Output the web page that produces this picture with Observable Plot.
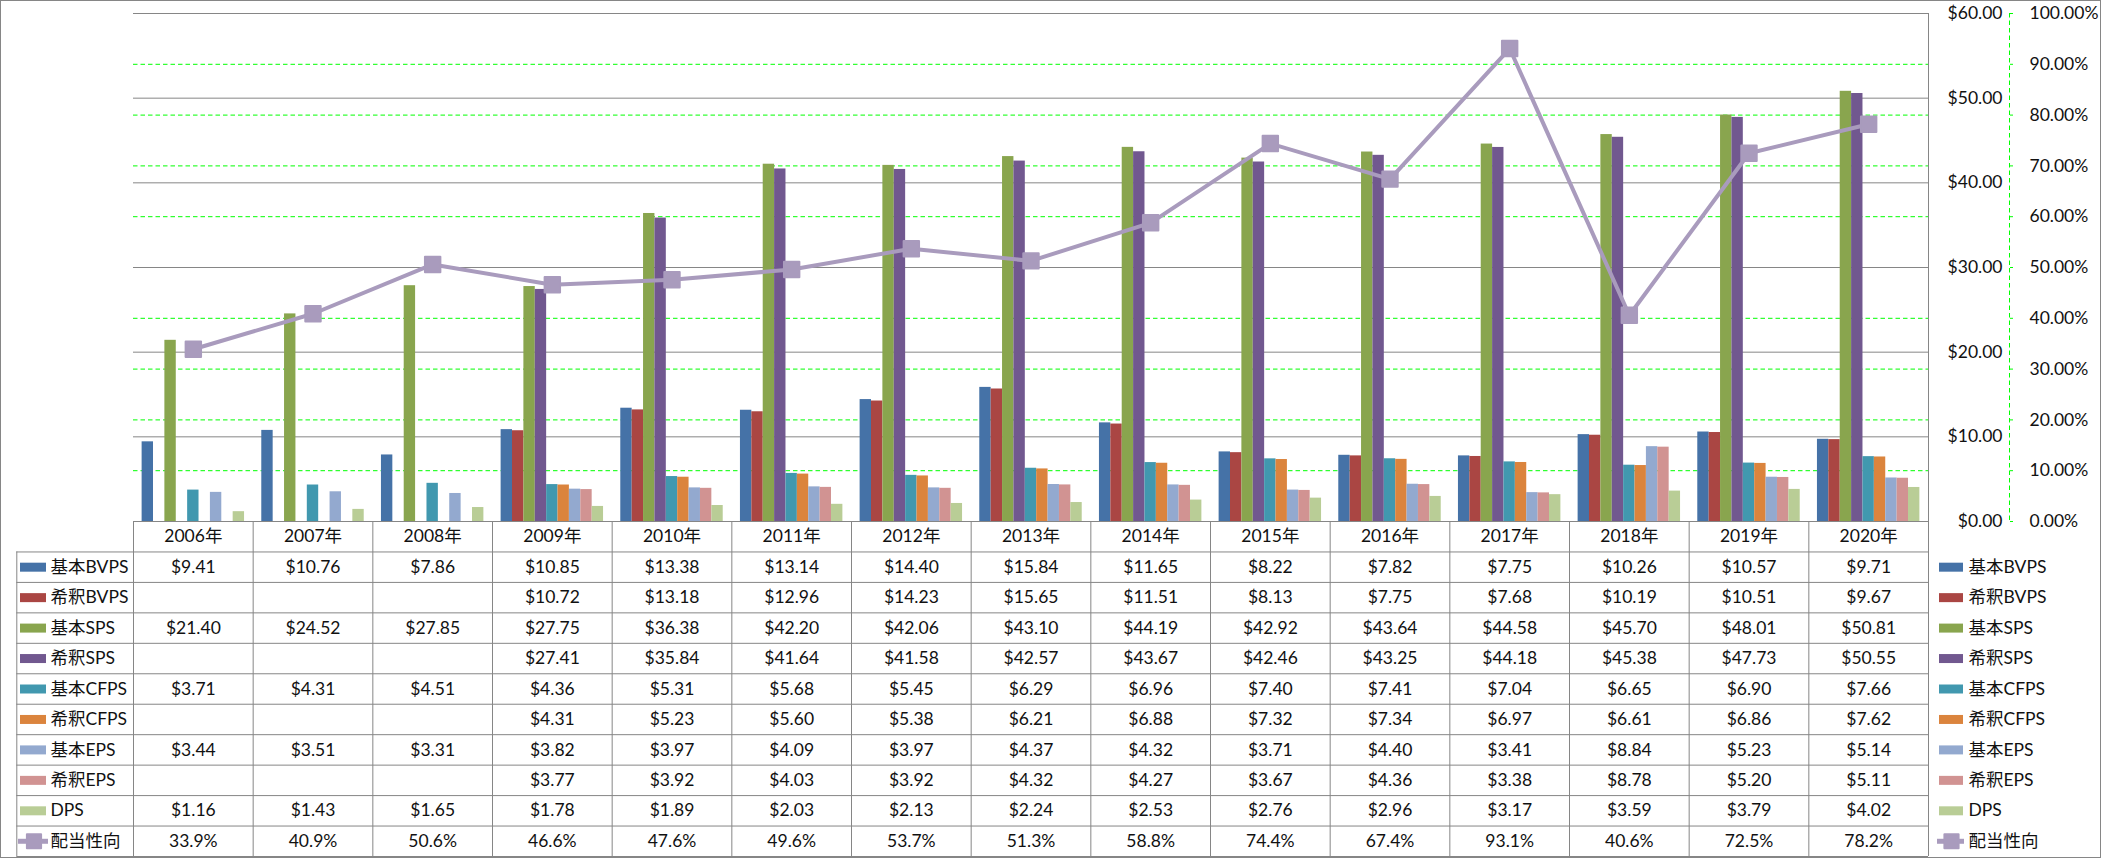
<!DOCTYPE html>
<html>
<head>
<meta charset="utf-8">
<script src="https://cdn.jsdelivr.net/npm/d3@7"></script>
<script src="https://cdn.jsdelivr.net/npm/@observablehq/plot@0.6"></script>
<style>
html, body { margin: 0; padding: 0; background: #fff; }
#wrap { width: 2101px; height: 858px; box-sizing: border-box; border: 1px solid #868686; overflow: hidden; background: #fff; }
#wrap svg { display: block; }
</style>
</head>
<body>
<div id="wrap"></div>
<script>
// ---------- data ----------
const years = ["2006年","2007年","2008年","2009年","2010年","2011年","2012年","2013年","2014年","2015年","2016年","2017年","2018年","2019年","2020年"];
const seriesNames = ["基本BVPS","希釈BVPS","基本SPS","希釈SPS","基本CFPS","希釈CFPS","基本EPS","希釈EPS","DPS"];
const seriesColors = ["#4572A7","#AA4643","#89A54E","#71588F","#4198AF","#DB843D","#93A9CF","#D19392","#B9CD96"];
const lineName = "配当性向";
const lineColor = "#A99BBD";

const basicBVPS   = [9.41,10.76,7.86,10.85,13.38,13.14,14.40,15.84,11.65,8.22,7.82,7.75,10.26,10.57,9.71];
const dilutedBVPS = [null,null,null,10.72,13.18,12.96,14.23,15.65,11.51,8.13,7.75,7.68,10.19,10.51,9.67];
const basicSPS    = [21.40,24.52,27.85,27.75,36.38,42.20,42.06,43.10,44.19,42.92,43.64,44.58,45.70,48.01,50.81];
const dilutedSPS  = [null,null,null,27.41,35.84,41.64,41.58,42.57,43.67,42.46,43.25,44.18,45.38,47.73,50.55];
const basicCFPS   = [3.71,4.31,4.51,4.36,5.31,5.68,5.45,6.29,6.96,7.40,7.41,7.04,6.65,6.90,7.66];
const dilutedCFPS = [null,null,null,4.31,5.23,5.60,5.38,6.21,6.88,7.32,7.34,6.97,6.61,6.86,7.62];
const basicEPS    = [3.44,3.51,3.31,3.82,3.97,4.09,3.97,4.37,4.32,3.71,4.40,3.41,8.84,5.23,5.14];
const dilutedEPS  = [null,null,null,3.77,3.92,4.03,3.92,4.32,4.27,3.67,4.36,3.38,8.78,5.20,5.11];
const DPS         = [1.16,1.43,1.65,1.78,1.89,2.03,2.13,2.24,2.53,2.76,2.96,3.17,3.59,3.79,4.02];
const payoutRatio = [33.9,40.9,50.6,46.6,47.6,49.6,53.7,51.3,58.8,74.4,67.4,93.1,40.6,72.5,78.2];

const dollarTicks = [0,10,20,30,40,50,60];
const pctTicks = [0,10,20,30,40,50,60,70,80,90,100];

// ---------- derived ----------
const seriesValues = [basicBVPS,dilutedBVPS,basicSPS,dilutedSPS,basicCFPS,dilutedCFPS,basicEPS,dilutedEPS,DPS];
const nCat = years.length;
const nSer = seriesNames.length;
const groupPad = 0.072;
const barW = (1 - 2 * groupPad) / nSer;
const bars = [];
seriesValues.forEach((vals, s) => vals.forEach((v, i) => {
  if (v != null) bars.push({series: seriesNames[s], year: years[i], x1: i + groupPad + s * barW, x2: i + groupPad + (s + 1) * barW, value: v});
}));
const pctAsDollar = p => p * 60 / 100;   // secondary axis: 100% ↔ $60
const payout = payoutRatio.map((p, i) => ({year: years[i], x: i + 0.5, y: pctAsDollar(p), p}));

const fmtDollar = d3.format("$.2f");
const W = 2099, mL = 132, mR = 172;
const colPx = (W - mL - mR) / nCat;
const px = p => (p - mL) / colPx;        // layout helper: svg pixel -> column units

const gray = "#868686";
const green = "#00ff00";
const dash = "4.5,3";
const ink = "#111";
const font = 'Lato, "Noto Sans CJK JP", sans-serif';
const style = {fontFamily: font, fontSize: "17.5px", color: ink, background: "white", overflow: "visible"};

// ---------- chart ----------
const chart = Plot.plot({
  width: W, height: 521,
  marginLeft: mL, marginRight: mR, marginTop: 12, marginBottom: 1,
  style,
  x: {domain: [0, nCat], axis: null},
  y: {domain: [0, 60], axis: null},
  color: {domain: seriesNames, range: seriesColors},
  marks: [
    Plot.gridY(pctTicks.map(pctAsDollar).filter(v => !dollarTicks.includes(v)), {stroke: green, strokeOpacity: 1, strokeDasharray: dash}),
    Plot.gridY(dollarTicks, {stroke: gray, strokeOpacity: 1}),
    Plot.ruleX([nCat], {stroke: gray}),
    Plot.rectY(bars, {x1: "x1", x2: "x2", y: "value", fill: "series"}),
    Plot.line(payout, {x: "x", y: "y", stroke: lineColor, strokeWidth: 4}),
    Plot.dot(payout, {x: "x", y: "y", symbol: "square", r: 8.7, fill: lineColor, stroke: lineColor, strokeWidth: 2, strokeLinejoin: "round"}),
    Plot.axisY(dollarTicks, {anchor: "right", tickSize: 0, tickPadding: 74, textAnchor: "end", tickFormat: fmtDollar}),
    Plot.ruleX([nCat], {dx: 81, stroke: green, strokeDasharray: dash}),
    Plot.axisY(pctTicks.map(pctAsDollar), {anchor: "right", dx: 81, tickSize: 3, tickPadding: 17, stroke: green, tickFormat: v => (v * 100 / 60).toFixed(2) + "%"})
  ]
});

// ---------- data table ----------
const rowNames = [...seriesNames, lineName];
const rowValues = [...seriesValues, payoutRatio];
const nRows = rowNames.length + 1;   // header row + data rows
const cells = [];
rowValues.forEach((vals, r) => vals.forEach((v, i) => {
  if (v != null) cells.push({x: i + 0.5, y: r + 1.5, label: r < nSer ? fmtDollar(v) : v.toFixed(1) + "%"});
}));
const swatchRows = seriesNames.map((name, i) => ({name, y: i + 1.5}));
const lineRow = [{name: lineName, y: nSer + 1.5}];

const table = Plot.plot({
  width: W, height: 335,
  marginLeft: mL, marginRight: mR, marginTop: 0, marginBottom: 0,
  style,
  x: {domain: [0, nCat], axis: null},
  y: {domain: [0, nRows], range: [-1, 334], axis: null},
  color: {domain: seriesNames, range: seriesColors},
  marks: [
    Plot.ruleY(d3.range(1, nRows + 1), {y: d => d, x1: px(15.3), x2: nCat, stroke: gray}),
    Plot.ruleX(d3.range(0, nCat + 1), {x: d => d, y1: 0, y2: nRows, stroke: gray}),
    Plot.ruleX([px(15.3)], {x: d => d, y1: 1, y2: nRows, stroke: gray}),
    Plot.text(years, {x: (d, i) => i + 0.5, y: 0.5, text: d => d, fill: ink}),
    Plot.text(cells, {x: "x", y: "y", text: "label", fill: ink}),
    // left legend column
    Plot.ruleY(swatchRows, {y: "y", x1: px(19), x2: px(45), stroke: "name", strokeWidth: 9}),
    Plot.ruleY(lineRow, {y: "y", x1: px(17), x2: px(47), stroke: lineColor, strokeWidth: 5}),
    Plot.dot(lineRow, {x: px(32.5), y: "y", symbol: "square", r: 8, fill: lineColor, stroke: lineColor, strokeWidth: 2, strokeLinejoin: "round"}),
    Plot.text(rowNames, {x: px(49), y: (d, i) => i + 1.5, text: d => d, textAnchor: "start", fill: ink}),
    // right legend
    Plot.ruleY(swatchRows, {y: "y", x1: px(1938), x2: px(1962), stroke: "name", strokeWidth: 9}),
    Plot.ruleY(lineRow, {y: "y", x1: px(1936), x2: px(1963), stroke: lineColor, strokeWidth: 5}),
    Plot.dot(lineRow, {x: px(1950), y: "y", symbol: "square", r: 8, fill: lineColor, stroke: lineColor, strokeWidth: 2, strokeLinejoin: "round"}),
    Plot.text(rowNames, {x: px(1967), y: (d, i) => i + 1.5, text: d => d, textAnchor: "start", fill: ink})
  ]
});

const wrap = document.getElementById("wrap");
wrap.appendChild(chart);
wrap.appendChild(table);
</script>
</body>
</html>
